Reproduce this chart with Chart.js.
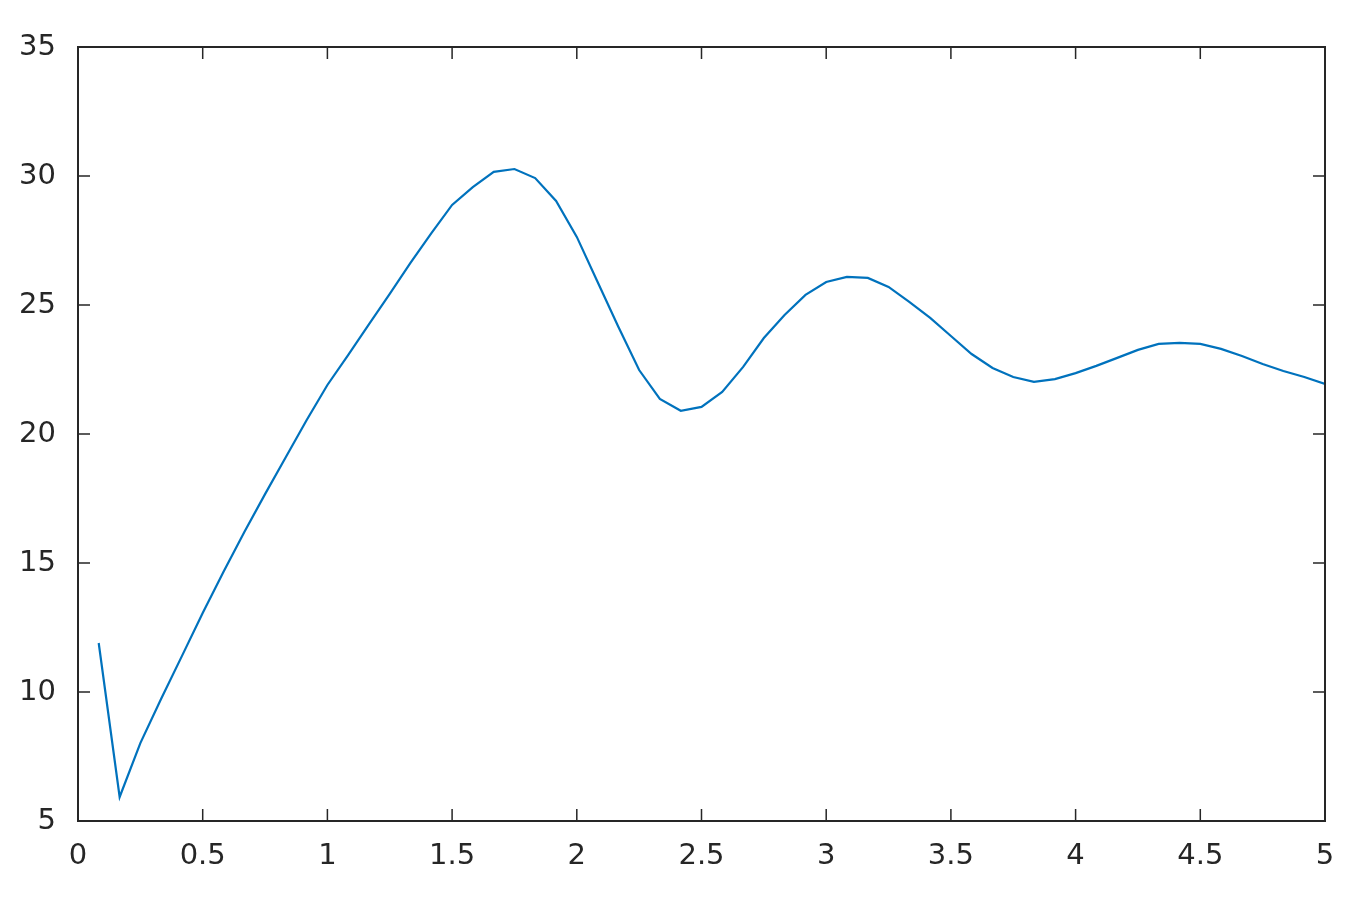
<!DOCTYPE html>
<html>
<head>
<meta charset="utf-8">
<script src="https://cdn.jsdelivr.net/npm/chart.js@4/dist/chart.umd.min.js"></script>
<style>
  html, body { margin: 0; padding: 0; background: #fff; }
  canvas { display: block; }
</style>
</head>
<body>
<canvas id="lineChart" width="1360" height="897"></canvas>
<script>
const xValues = [
  0.083, 0.167, 0.25, 0.333, 0.417, 0.5, 0.583, 0.667, 0.75, 0.833, 0.917, 1,
  1.083, 1.167, 1.25, 1.333, 1.417, 1.5, 1.583, 1.667, 1.75, 1.833, 1.917, 2,
  2.083, 2.167, 2.25, 2.333, 2.417, 2.5, 2.583, 2.667, 2.75, 2.833, 2.917, 3,
  3.083, 3.167, 3.25, 3.333, 3.417, 3.5, 3.583, 3.667, 3.75, 3.833, 3.917, 4,
  4.083, 4.167, 4.25, 4.333, 4.417, 4.5, 4.583, 4.667, 4.75, 4.833, 4.917, 5
];
const yValues = [
  11.9, 5.93, 8.02, 9.73, 11.4, 13.06, 14.65, 16.2, 17.67, 19.1, 20.54, 21.9,
  23.06, 24.26, 25.43, 26.63, 27.79, 28.88, 29.57, 30.16, 30.27, 29.92, 29.03, 27.64,
  25.9, 24.15, 22.48, 21.36, 20.9, 21.05, 21.63, 22.6, 23.72, 24.61, 25.39, 25.89,
  26.09, 26.05, 25.7, 25.12, 24.5, 23.8, 23.1, 22.56, 22.21, 22.02, 22.13, 22.36,
  22.64, 22.95, 23.26, 23.49, 23.53, 23.49, 23.3, 23.02, 22.71, 22.44, 22.21, 21.94
];
const xTicks = [0, 0.5, 1, 1.5, 2, 2.5, 3, 3.5, 4, 4.5, 5];
const yTicks = [5, 10, 15, 20, 25, 30, 35];

const axisColor = '#262626';
const tickFont = { family: 'DejaVu Sans', size: 29 };

// box round the plot with ticks drawn inward on all four sides
const boxPlugin = {
  id: 'box',
  afterDraw(chart) {
    const { ctx, chartArea: a, scales } = chart;
    const len = 12;
    ctx.save();
    ctx.strokeStyle = axisColor;
    ctx.lineWidth = 1.5;
    ctx.beginPath();
    xTicks.forEach(v => {
      const px = scales.x.getPixelForValue(v);
      ctx.moveTo(px, a.bottom); ctx.lineTo(px, a.bottom - len);
      ctx.moveTo(px, a.top); ctx.lineTo(px, a.top + len);
    });
    yTicks.forEach(v => {
      const py = scales.y.getPixelForValue(v);
      ctx.moveTo(a.left, py); ctx.lineTo(a.left + len, py);
      ctx.moveTo(a.right, py); ctx.lineTo(a.right - len, py);
    });
    ctx.stroke();
    ctx.lineWidth = 2;
    ctx.strokeRect(a.left, a.top, a.right - a.left, a.bottom - a.top);
    ctx.restore();
  }
};

new Chart(document.getElementById('lineChart'), {
  type: 'line',
  data: {
    datasets: [{
      data: xValues.map((x, i) => ({ x, y: yValues[i] })),
      borderColor: '#0072BD',
      borderWidth: 2.2,
      pointRadius: 0,
      tension: 0,
      fill: false
    }]
  },
  options: {
    responsive: false,
    animation: false,
    devicePixelRatio: 1,
    layout: { padding: { top: 47, right: 35, left: 0, bottom: 0 } },
    plugins: { legend: { display: false }, tooltip: { enabled: false } },
    scales: {
      x: {
        type: 'linear', min: 0, max: 5,
        grid: { display: false }, border: { display: false },
        afterBuildTicks: s => { s.ticks = xTicks.map(v => ({ value: v })); },
        afterFit: s => { s.height = 76; },
        ticks: { font: tickFont, color: axisColor, padding: 10, maxRotation: 0, autoSkip: false,
                 callback: v => String(v) }
      },
      y: {
        type: 'linear', min: 5, max: 35,
        grid: { display: false }, border: { display: false },
        afterBuildTicks: s => { s.ticks = yTicks.map(v => ({ value: v })); },
        afterFit: s => { s.width = 78; },
        ticks: { font: tickFont, color: axisColor, padding: 14, callback: v => String(v) }
      }
    }
  },
  plugins: [boxPlugin]
});
</script>
</body>
</html>
